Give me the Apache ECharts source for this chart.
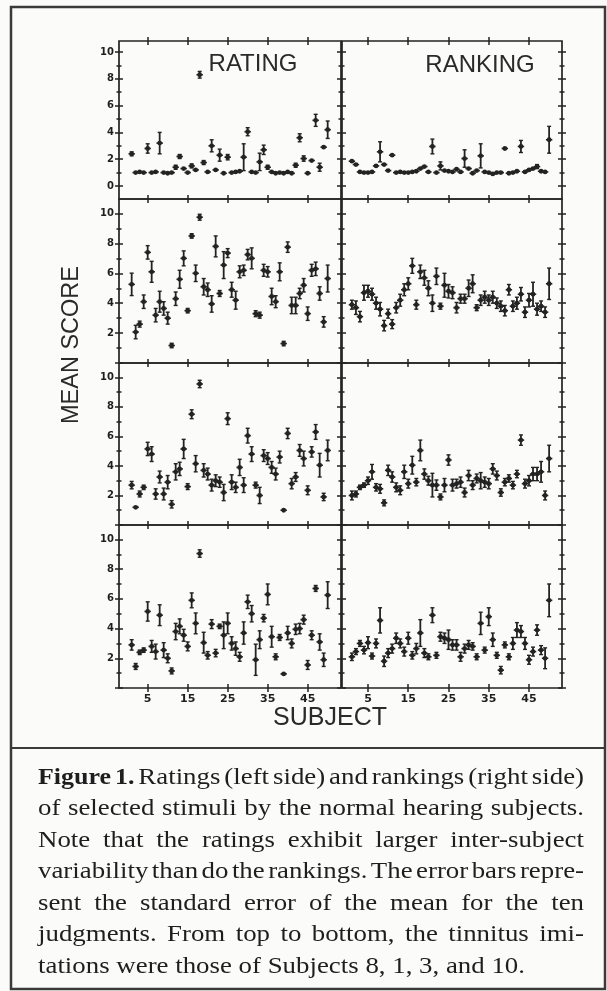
<!DOCTYPE html>
<html><head><meta charset="utf-8">
<script src="https://cdn.jsdelivr.net/npm/echarts@6/dist/echarts.min.js"></script>
<style>html,body{margin:0;padding:0;background:#fbfbfa;} #chart{width:607px;height:991px;}</style>
</head><body><div id="chart"></div>
<script>
// ---------- data ----------
const subjects = [1,2,3,4,5,6,7,8,9,10,11,12,13,14,15,16,17,18,19,20,21,22,23,24,25,26,27,28,29,30,31,32,33,34,35,36,37,38,39,40,41,42,43,44,45,46,47,48,49,50];
const xTickValues = [5,15,25,35,45];
const yTickMajor = [0,2,4,6,8,10];
const yTickMinor = [1,3,5,7,9];
const yLabelsTopRow = [0,2,4,6,8,10];
const yLabelsOtherRows = [2,4,6,8,10];
const panelTitles = ['RATING','RANKING'];
const xAxisTitle = 'SUBJECT';
const yAxisTitle = 'MEAN SCORE';
const captionBoldWords = 2;
const captionLines = [
  'Figure 1. Ratings (left side) and rankings (right side)',
  'of selected stimuli by the normal hearing subjects.',
  'Note that the ratings exhibit larger inter-subject',
  'variability than do the rankings. The error bars repre-',
  'sent the standard error of the mean for the ten',
  'judgments. From top to bottom, the tinnitus imi-',
  'tations were those of Subjects 8, 1, 3, and 10.'
];

// Imitation of Subject 8 (top row)
const ratingS8Mean = [2.4,1.0,1.05,1.0,2.8,1.0,1.05,3.2,1.0,0.95,1.0,1.4,2.2,1.3,1.0,1.5,1.2,8.3,1.75,1.05,3.0,1.2,2.3,0.95,2.15,1.0,1.05,1.1,2.15,4.05,1.05,1.0,1.8,2.7,1.4,1.05,0.95,1.0,0.95,1.05,0.95,1.55,3.6,2.05,0.95,1.9,4.9,1.4,2.9,4.2];
const ratingS8Err  = [0.15,0.05,0.05,0.05,0.35,0.05,0.1,0.8,0.05,0.05,0.05,0.15,0.15,0.1,0.05,0.15,0.1,0.25,0.15,0.05,0.45,0.05,0.45,0.05,0.2,0.05,0.05,0.1,1.0,0.3,0.05,0.05,0.65,0.35,0.15,0.1,0.05,0.05,0.05,0.1,0.05,0.15,0.3,0.2,0.05,0.1,0.45,0.3,0.1,0.65];
const rankingS8Mean = [1.85,1.6,1.05,1.0,1.0,1.05,1.5,2.55,1.6,1.15,2.3,1.0,1.05,1.0,1.0,1.05,1.1,1.3,1.45,1.05,2.95,1.0,1.5,1.15,1.1,1.05,1.25,1.05,2.05,1.3,0.95,1.15,2.25,1.05,1.0,0.9,1.0,1.0,2.8,0.95,1.0,1.1,2.95,1.05,1.2,1.3,1.45,1.1,1.05,3.45];
const rankingS8Err  = [0.1,0.1,0.05,0.05,0.05,0.05,0.1,0.75,0.1,0.1,0.1,0.05,0.05,0.05,0.05,0.05,0.05,0.1,0.1,0.05,0.55,0.05,0.3,0.05,0.05,0.05,0.1,0.05,0.65,0.1,0.05,0.05,0.9,0.05,0.05,0.05,0.05,0.05,0.05,0.05,0.05,0.05,0.45,0.05,0.1,0.1,0.15,0.05,0.05,1.0];

// Imitation of Subject 1 (second row)
const ratingS1Mean = [5.26,2.07,2.6,4.1,7.4,6.1,3.2,4.1,3.65,3.0,1.17,4.3,5.6,7.0,3.5,8.5,6.0,9.75,5.1,4.9,3.95,7.8,4.65,6.55,7.35,4.9,4.2,6.1,6.2,7.25,7.0,3.3,3.2,6.2,6.1,4.45,4.1,6.1,1.3,7.75,3.85,3.85,4.65,5.2,3.3,6.2,6.3,4.65,2.75,5.65];
const ratingS1Err  = [0.75,0.45,0.2,0.45,0.45,0.7,0.45,0.7,0.45,0.4,0.15,0.45,0.6,0.5,0.15,0.15,0.55,0.2,0.55,0.45,0.55,0.7,0.2,0.9,0.3,0.5,0.6,0.4,0.35,0.35,0.7,0.2,0.2,0.4,0.35,0.55,0.4,0.6,0.15,0.35,0.55,0.55,0.35,0.45,0.45,0.4,0.45,0.45,0.35,0.9];
const rankingS1Mean = [3.9,3.7,3.1,4.7,4.8,4.6,4.0,3.6,2.5,3.3,2.6,3.7,4.2,4.9,5.3,6.5,3.9,6.1,5.7,5.0,4.0,5.8,3.8,5.2,4.8,4.7,3.7,4.3,4.3,5.0,5.3,3.7,4.2,4.4,4.2,4.4,4.0,3.8,3.5,4.9,3.8,4.0,4.6,3.4,4.2,4.6,3.6,3.8,3.4,5.3];
const rankingS1Err  = [0.3,0.45,0.35,0.5,0.4,0.4,0.4,0.45,0.35,0.3,0.3,0.35,0.4,0.4,0.4,0.5,0.3,0.45,0.5,0.5,0.55,0.55,0.2,0.8,0.45,0.4,0.35,0.3,0.3,0.55,0.6,0.2,0.35,0.4,0.35,0.4,0.35,0.35,0.35,0.35,0.35,0.4,0.45,0.35,0.45,0.8,0.4,0.35,0.35,1.05];

// Imitation of Subject 3 (third row)
const ratingS3Mean = [2.7,1.2,2.1,2.55,5.15,4.8,2.1,3.25,2.1,2.9,1.4,3.6,3.8,5.15,2.6,7.5,4.15,9.55,3.7,3.45,2.7,3.0,2.9,2.2,7.2,2.9,2.55,3.9,2.7,6.05,4.8,2.7,2.0,4.7,4.5,3.9,3.45,4.6,1.0,6.2,2.8,3.25,5.05,4.5,2.35,4.95,6.3,4.05,1.9,5.05];
const ratingS3Err  = [0.25,0.1,0.2,0.15,0.45,0.5,0.35,0.4,0.4,0.45,0.25,0.55,0.45,0.65,0.2,0.3,0.55,0.25,0.45,0.4,0.4,0.4,0.35,0.55,0.4,0.5,0.35,0.55,0.5,0.5,0.5,0.2,0.55,0.4,0.4,0.4,0.4,0.4,0.05,0.35,0.35,0.3,0.4,0.5,0.3,0.35,0.5,0.8,0.25,0.7];
const rankingS3Mean = [2.0,2.1,2.55,2.7,3.0,3.6,2.55,2.45,1.5,3.7,3.25,2.55,2.35,3.6,2.8,4.05,2.9,5.05,3.45,3.0,2.7,2.7,1.9,2.7,4.4,2.7,2.8,2.9,2.2,3.35,2.7,3.15,3.0,2.9,2.8,3.8,3.35,2.2,2.9,3.15,2.7,3.45,5.75,2.8,3.0,3.45,3.45,3.6,2.0,4.5];
const rankingS3Err  = [0.3,0.2,0.15,0.15,0.25,0.5,0.25,0.3,0.2,0.35,0.35,0.3,0.3,0.45,0.3,0.6,0.25,0.7,0.35,0.3,0.8,0.35,0.2,0.45,0.35,0.4,0.3,0.35,0.3,0.35,0.3,0.3,0.55,0.35,0.35,0.35,0.3,0.25,0.25,0.25,0.25,0.25,0.35,0.3,0.35,0.45,0.45,0.7,0.3,0.9];

// Imitation of Subject 10 (bottom row)
const ratingS10Mean = [2.9,1.45,2.4,2.55,5.15,2.8,2.45,4.9,2.55,2.0,1.15,3.8,4.15,3.55,2.8,5.9,4.35,9.05,3.05,2.2,4.3,2.35,4.15,3.55,4.35,3.0,2.65,2.1,3.7,5.8,5.0,1.9,3.25,4.7,6.3,3.45,2.1,3.4,0.95,3.7,3.0,3.95,4.0,4.6,1.55,3.55,6.7,3.1,1.9,6.25];
const ratingS10Err  = [0.35,0.2,0.15,0.15,0.65,0.4,0.5,0.7,0.5,0.3,0.2,0.55,0.5,0.4,0.3,0.5,0.7,0.25,0.7,0.25,0.3,0.25,0.15,0.9,0.7,0.45,0.45,0.3,0.75,0.45,0.55,1.05,0.6,0.25,0.7,0.7,0.2,0.2,0.05,0.45,0.3,0.35,0.35,0.3,0.3,0.3,0.2,0.55,0.45,0.9];
const rankingS10Mean = [2.1,2.45,3.0,2.55,3.05,2.15,3.0,4.55,1.8,2.35,2.65,3.35,3.0,2.45,3.35,2.2,2.65,3.7,2.35,2.1,4.9,2.2,3.45,3.35,3.25,2.9,2.9,2.1,2.65,2.9,2.8,2.1,4.35,2.55,4.8,3.25,2.2,1.2,2.9,2.1,3.0,3.9,3.8,3.0,1.9,2.45,3.9,2.55,2.0,5.9];
const rankingS10Err  = [0.25,0.2,0.2,0.25,0.4,0.2,0.3,0.85,0.35,0.3,0.3,0.35,0.3,0.3,0.4,0.25,0.35,0.9,0.3,0.2,0.5,0.2,0.3,0.35,0.65,0.35,0.35,0.3,0.3,0.3,0.25,0.2,0.75,0.2,0.6,0.45,0.2,0.25,0.2,0.2,0.4,0.5,0.4,0.4,0.3,0.3,0.35,0.3,0.7,1.1];

// ---------- layout ----------
const panels = [
  {row:0,col:0,mean:ratingS8Mean,err:ratingS8Err},
  {row:0,col:1,mean:rankingS8Mean,err:rankingS8Err},
  {row:1,col:0,mean:ratingS1Mean,err:ratingS1Err},
  {row:1,col:1,mean:rankingS1Mean,err:rankingS1Err},
  {row:2,col:0,mean:ratingS3Mean,err:ratingS3Err},
  {row:2,col:1,mean:rankingS3Mean,err:rankingS3Err},
  {row:3,col:0,mean:ratingS10Mean,err:ratingS10Err},
  {row:3,col:1,mean:rankingS10Mean,err:rankingS10Err}
];
const rowTop = [41,199,363,525], rowH = [158,164,162,163];
const colLeft = [119,342], colW = [222,220];
const yRange = [[-0.97,10.82],[0,10.97],[0,10.97],[0,10.97]];
const xRange = [[-2.17,53.33],[-1.46,53.2]];
const ink = '#232323';

function renderItem(params, api) {
  const s = api.value(0), m = api.value(1), e = api.value(2);
  const pm = api.coord([s, m]);
  const lo = api.coord([s, m - e]);
  const hi = api.coord([s, m + e]);
  const ch = [];
  if (lo[1] - hi[1] > 3) {
    ch.push({type:'line', shape:{x1:pm[0],y1:lo[1],x2:pm[0],y2:hi[1]}, style:{stroke:ink,lineWidth:1.8}});
    ch.push({type:'line', shape:{x1:pm[0]-2,y1:lo[1],x2:pm[0]+2,y2:lo[1]}, style:{stroke:ink,lineWidth:1.4}});
    ch.push({type:'line', shape:{x1:pm[0]-2,y1:hi[1],x2:pm[0]+2,y2:hi[1]}, style:{stroke:ink,lineWidth:1.4}});
  }
  ch.push({type:'line', shape:{x1:pm[0]-3.2,y1:pm[1],x2:pm[0]+3.2,y2:pm[1]}, style:{stroke:ink,lineWidth:1.6}});
  ch.push({type:'circle', shape:{cx:pm[0],cy:pm[1],r:2.4}, style:{fill:ink}});
  return {type:'group', children:ch};
}

const grid = [], xAxis = [], yAxis = [], series = [];
panels.forEach((p, gi) => {
  grid.push({left:colLeft[p.col], top:rowTop[p.row], width:colW[p.col], height:rowH[p.row],
    show:true, borderColor:ink, borderWidth:1.7, backgroundColor:'transparent',
    containLabel:false, outerBoundsMode:'none'});
  const xr = xRange[p.col], yr = yRange[p.row];
  const mkX = (pos, inside, labels) => {
    xAxis.push({type:'value', gridIndex:gi, min:xr[0], max:xr[1], position:pos,
      axisLine:{show:false,onZero:false}, splitLine:{show:false},
      axisTick:{show:true, inside:inside, length:4, customValues:xTickValues, lineStyle:{color:ink,width:1.5}},
      axisLabel:{show:!!labels, customValues:xTickValues, margin:6, fontSize:11, fontWeight:'bold',
        fontFamily:'DejaVu Sans', color:'#1e1e1e'}});
    return xAxis.length - 1;
  };
  const mkY = (pos, inside, ticks, len, labels) => {
    yAxis.push({type:'value', gridIndex:gi, min:yr[0], max:yr[1], position:pos,
      axisLine:{show:false,onZero:false}, splitLine:{show:false},
      axisTick:{show:true, inside:inside, length:len, customValues:ticks, lineStyle:{color:ink,width:1.5}},
      axisLabel:{show:!!labels, customValues:labels || ticks, margin:5, fontSize:10, fontWeight:'bold',
        fontFamily:'DejaVu Sans', color:'#1e1e1e'}});
    return yAxis.length - 1;
  };
  const xi = mkX('bottom', true, p.row === 3);
  mkX('top', true, false);
  if (p.row === 0) mkX('top', false, false);
  if (p.row === 3) mkX('bottom', false, false);
  const yi = mkY('left', true, yTickMajor, 4, null);
  mkY('left', true, yTickMinor, 2.5, null);
  mkY('right', true, yTickMajor, 4, null);
  mkY('right', true, yTickMinor, 2.5, null);
  if (p.col === 0) {
    mkY('left', false, yTickMajor, 4, p.row === 0 ? yLabelsTopRow : yLabelsOtherRows);
    mkY('left', false, yTickMinor, 2.5, null);
  } else {
    mkY('right', false, yTickMajor, 4, null);
    mkY('right', false, yTickMinor, 2.5, null);
  }
  series.push({type:'custom', xAxisIndex:xi, yAxisIndex:yi, clip:true, silent:true,
    data: subjects.map((s, i) => [s, p.mean[i], p.err[i]]),
    encode:{x:0, y:1}, renderItem: renderItem});
});

// ---------- caption (justified, slightly widened serif) ----------
const cv = document.createElement('canvas').getContext('2d');
const serif = '"Liberation Serif", "Times New Roman", serif';
function tw(text, size, bold) { cv.font = (bold ? 'bold ' : '') + size + 'px ' + serif; return cv.measureText(text).width; }
const capLeft = 38, capRight = 584, capTop = 778, capStep = 31.5, capSize = 22.5;
const regScale = 487 / tw(captionLines[6], capSize, false);
const boldScale = 99 / tw('Figure 1.', capSize, true);
const graphic = [];
captionLines.forEach((line, li) => {
  const words = line.split(' ');
  const bold = words.map((w, wi) => li === 0 && wi < captionBoldWords);
  const sc = bold.map(b => b ? boldScale : regScale);
  const widths = words.map((w, wi) => tw(w, capSize, bold[wi]) * sc[wi]);
  const total = widths.reduce((a, b) => a + b, 0);
  const last = li === captionLines.length - 1;
  const gap = last ? tw(' ', capSize, false) * regScale : (capRight - capLeft - total) / (words.length - 1);
  let x = capLeft;
  words.forEach((w, wi) => {
    graphic.push({type:'text', x:x, y:capTop + li * capStep, scaleX:sc[wi], silent:true,
      style:{text:w, fontSize:capSize, fontFamily:serif, fontWeight:bold[wi] ? 'bold' : 'normal',
        fill:'#1e1e1e', verticalAlign:'middle', align:'left'}});
    x += widths[wi] + gap;
  });
});

graphic.push(
  {type:'rect', silent:true, shape:{x:11,y:7,width:594,height:982}, style:{fill:'none',stroke:'#3a3a3a',lineWidth:2.5}},
  {type:'line', silent:true, shape:{x1:11,y1:748,x2:605,y2:748}, style:{stroke:'#3a3a3a',lineWidth:2.2}},
  {type:'text', silent:true, x:253, y:64, style:{text:panelTitles[0], fontSize:24, fontFamily:'Liberation Sans', fill:'#2a2a2a', align:'center', verticalAlign:'middle'}},
  {type:'text', silent:true, x:480, y:65, style:{text:panelTitles[1], fontSize:24, fontFamily:'Liberation Sans', fill:'#2a2a2a', align:'center', verticalAlign:'middle'}},
  {type:'text', silent:true, x:72, y:345, rotation:Math.PI/2, style:{text:yAxisTitle, fontSize:23.5, fontFamily:'Liberation Sans', fill:'#2a2a2a', align:'center', verticalAlign:'middle'}},
  {type:'text', silent:true, x:330, y:718, style:{text:xAxisTitle, fontSize:25, fontFamily:'Liberation Sans', fill:'#2a2a2a', align:'center', verticalAlign:'middle'}}
);

const chart = echarts.init(document.getElementById('chart'), null, {renderer:'canvas'});
chart.setOption({animation:false, backgroundColor:'#fbfbfa', grid, xAxis, yAxis, series, graphic});
</script></body></html>
